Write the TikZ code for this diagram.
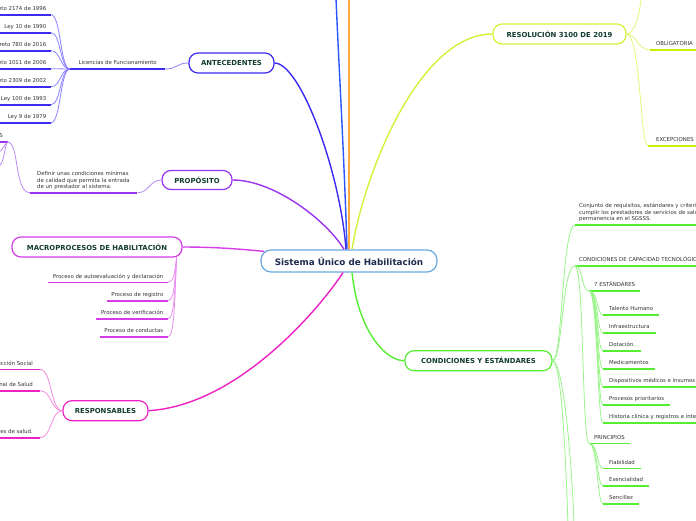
\documentclass[tikz,border=0pt]{standalone}
\usepackage{fontspec}
\setmainfont{DejaVu Sans}
\definecolor{cenB}{HTML}{6AA8E0}
\definecolor{cenT}{HTML}{1C2B4E}
\definecolor{nodeT}{HTML}{133D2E}
\definecolor{txt}{HTML}{333333}
\definecolor{antB}{HTML}{3B2BF0}
\definecolor{antL}{HTML}{8A80FF}
\definecolor{propB}{HTML}{9A33F0}
\definecolor{propL}{HTML}{B98AF7}
\definecolor{macB}{HTML}{D63CE8}
\definecolor{macL}{HTML}{E88FF2}
\definecolor{resB}{HTML}{EE22C4}
\definecolor{resL}{HTML}{F58ADF}
\definecolor{solB}{HTML}{D6F03A}
\definecolor{solU}{HTML}{CCEE00}
\definecolor{solL}{HTML}{E4F57A}
\definecolor{conB}{HTML}{55EE33}
\definecolor{conL}{HTML}{99F58A}
\definecolor{vblue}{HTML}{2A55FF}
\definecolor{vorange}{HTML}{FFA940}
\begin{document}
\begin{tikzpicture}[x=1pt,y=-1pt,
  hub/.style={draw, line width=1.2pt, rounded corners=9pt, fill=white, minimum height=20pt, inner sep=0pt, font=\bfseries\fontsize{6.9}{8}\selectfont, text=nodeT},
  sm/.style={font=\fontsize{5.4}{6.5}\selectfont, text=txt, inner ysep=2.7pt, text height=4.2pt, text depth=1.3pt},
  mt/.style={font=\fontsize{5.4}{6.5}\selectfont, text=txt, align=left, inner ysep=2.7pt},
  lf/.style={sm, inner xsep=4.5pt, anchor=south east},
  rt/.style={sm, inner xsep=6pt, anchor=south west},
  ul/.style={line width=1.6pt},
  br/.style={line width=0.8pt},
  mainc/.style={line width=1.4pt}
]
\useasboundingbox (0,0) rectangle (696,520);
\clip (0,0) rectangle (696,520);

% ---------- hubs ----------
\node[hub, draw=cenB, text=cenT, font=\bfseries\fontsize{8.8}{10}\selectfont, minimum width=176pt, minimum height=22pt, rounded corners=10pt] (c) at (349,261) {Sistema Único de Habilitación};
\node[hub, draw=antB, minimum width=85pt] (ant) at (231.5,63) {ANTECEDENTES};
\node[hub, draw=propB, minimum width=70pt, minimum height=19pt] (prop) at (197,180) {PROPÓSITO};
\node[hub, draw=macB, minimum width=170pt] (mac) at (97,247) {MACROPROCESOS DE HABILITACIÓN};
\node[hub, draw=resB, minimum width=85pt] (res) at (105.5,410.7) {RESPONSABLES};
\node[hub, draw=solB, minimum width=133pt] (sol) at (559.5,34) {RESOLUCIÓN 3100 DE 2019};
\node[hub, draw=conB, minimum width=147pt] (con) at (478.5,360.7) {CONDICIONES Y ESTÁNDARES};

% ---------- center connectors ----------
\coordinate (topb) at (336,-2);
\coordinate (topo) at (349,-2);
\draw[mainc, vorange] (c.north) -- (topo);
\draw[mainc, vblue] ([xshift=-2pt]c.north) .. controls (344,150) and (338,50) .. (topb);
\draw[mainc, antB] (ant.east) .. controls (300,63) and (340,170) .. ([xshift=-3pt]c.north);
\draw[mainc, propB] (prop.east) .. controls (275,180) and (328,222) .. ([xshift=-5pt]c.north);
\draw[mainc, macB] (mac.east) .. controls (215,247) and (240,249) .. ([xshift=4pt,yshift=-2pt]c.north west);
\draw[mainc, solB] ([xshift=3pt]c.north) .. controls (365,170) and (420,34) .. (sol.west);
\draw[mainc, resB] (res.east) .. controls (240,405) and (322,305) .. ([xshift=-6pt]c.south);
\draw[mainc, conB] ([xshift=3pt]c.south) .. controls (358,330) and (385,361) .. (con.west);

% ---------- ANTECEDENTES ----------
\node[sm, anchor=south west, minimum width=95pt] (lic) at (70,69) {Licencias de Funcionamiento};
\draw[ul, antB] (lic.south west) -- (lic.south east);
\draw[br, antL] (lic.south east) .. controls +(12,0) and +(-12,0) .. (ant.west);
\foreach \n/\y/\t in {a1/14.7/Decreto 2174 de 1996, a2/32.7/Ley 10 de 1990, a3/50.7/Decreto 780 de 2016, a4/68.7/Decreto 1011 de 2006, a5/86.7/Decreto 2309 de 2002, a6/104.7/Ley 100 de 1993, a7/122.7/Ley 9 de 1979}{
  \node[lf] (\n) at (51,\y) {\t};
  \draw[ul, antB] ([xshift=-10pt]\n.south west) -- (\n.south east);
  \draw[br, antL] (lic.south west) .. controls +(-10,0) and +(10,0) .. (\n.south east);
}

% ---------- PROPÓSITO ----------
\node[mt, anchor=south west, text width=93pt, inner xsep=7pt] (def) at (30,192.7) {Definir unas condiciones mínimas\\de calidad que permita la entrada\\de un prestador al sistema.};
\draw[ul, propB] (def.south west) -- (def.south east);
\draw[br, propL] (def.south east) .. controls +(12,0) and +(-12,0) .. (prop.west);
\node[lf] (obj) at (7.5,142) {OBJETIVOS};
\draw[ul, propB] (obj.south west) -- (obj.south east);
\draw[br, propL] (def.south west) .. controls +(-16,0) and +(12,0) .. (obj.south east);
\coordinate (oc1) at (-2,152);
\coordinate (oc2) at (-2,166);
\draw[br, propL] (obj.south east) .. controls +(-3,2) and +(4,0) .. (oc1);
\draw[br, propL] (obj.south east) .. controls +(-3,4) and +(6,0) .. (oc2);

% ---------- MACROPROCESOS ----------
\coordinate (mb) at ([xshift=-6pt]mac.south east);
\foreach \n/\y/\t/\d in {m1/282.3/Proceso de autoevaluación y declaración/15, m2/300.7/Proceso de registro/26, m3/318.7/Proceso de verificación/37, m4/336.7/Proceso de conductas/48}{
  \node[lf] (\n) at (168,\y) {\t};
  \draw[ul, macB] (\n.south west) -- (\n.south east);
  \draw[br, macL] (mb) .. controls +(-2,\d) and +(6,0) .. (\n.south east);
}

% ---------- RESPONSABLES ----------
\foreach \n/\y/\t in {r1/369.3/Ministerio de Salud y Protección Social, r2/390.7/Superintendencia Nacional de Salud, r3/437.7/Entidades departamentales y distritales de salud.}{
  \node[lf, inner xsep=7pt] (\n) at (40,\y) {\t};
  \draw[ul, resB] (\n.south west) -- (\n.south east);
  \draw[br, resL] (res.west) .. controls +(-12,0) and +(12,0) .. (\n.south east);
}

% ---------- RESOLUCIÓN ----------
\node[rt] (obl) at (650,50) {OBLIGATORIA};
\draw[ul, solU] (obl.south west) -- ([xshift=20pt]obl.south east);
\node[rt, inner xsep=8pt] (exc) at (648,145.7) {EXCEPCIONES};
\draw[ul, solU] (exc.south west) -- ([xshift=20pt]exc.south east);
\coordinate (solup) at (641,-3);
\draw[br, solL] (sol.east) .. controls +(7,0) and +(-1,20) .. (solup);
\draw[br, solL] (sol.east) .. controls +(10,0) and +(-12,0) .. (obl.south west);
\draw[br, solL] (sol.east) .. controls +(14,0) and +(-8,0) .. (exc.south west);

% ---------- CONDICIONES ----------
\node[mt, anchor=south west, text width=200pt, inner xsep=4pt] (cj) at (575,225) {Conjunto de requisitos, estándares y criterios que deben\\cumplir los prestadores de servicios de salud para su entrada y\\permanencia en el SGSSS.};
\draw[ul, conB] (cj.south west) -- (cj.south east);
\node[rt, inner xsep=4pt] (cap) at (575,265.7) {CONDICIONES DE CAPACIDAD TECNOLÓGICA Y CIENTÍFICA};
\draw[ul, conB] (cap.south west) -- (cap.south east);
\coordinate (cd1) at (568,525);
\coordinate (cd2) at (574,525);
\draw[br, conL] (con.east) .. controls +(10,0) and +(-13,0) .. (cj.south west);
\draw[br, conL] (con.east) .. controls +(10,0) and +(-13,0) .. (cap.south west);
\draw[br, conL] (con.east) .. controls +(9,0) and +(-2,-60) .. (cd1);
\draw[br, conL] (con.east) .. controls +(11,0) and +(-2,-60) .. (cd2);

\node[rt, inner xsep=5pt] (est) at (589,290.7) {7 ESTÁNDARES};
\draw[ul, conB] (est.south west) -- (est.south east);
\node[rt, inner xsep=5pt] (pri) at (589,443.3) {PRINCIPIOS};
\draw[ul, conB] (pri.south west) -- (pri.south east);
\draw[br, conL] (cap.south west) .. controls +(8,0) and +(-8,0) .. (est.south west);
\draw[br, conL] (cap.south west) .. controls +(9,0) and +(-7,0) .. (pri.south west);

\foreach \n/\y/\t in {e1/315/Talento Humano, e2/333/Infraestructura, e3/351/Dotación., e4/369/Medicamentos, e5/387/Dispositivos médicos e insumos, e6/405/Procesos prioritarios, e7/422.7/Historia clínica y registros e interdependencia}{
  \node[rt] (\n) at (603,\y) {\t};
  \draw[ul, conB] (\n.south west) -- (\n.south east);
  \draw[br, conL] (est.south west) .. controls +(9,0) and +(-6,0) .. (\n.south west);
}
\foreach \n/\y/\t in {p1/468.3/Fiabilidad, p2/486/Esencialidad, p3/503.7/Sencillez}{
  \node[rt] (\n) at (603,\y) {\t};
  \draw[ul, conB] (\n.south west) -- (\n.south east);
  \draw[br, conL] (pri.south west) .. controls +(9,0) and +(-6,0) .. (\n.south west);
}
\end{tikzpicture}
\end{document}
